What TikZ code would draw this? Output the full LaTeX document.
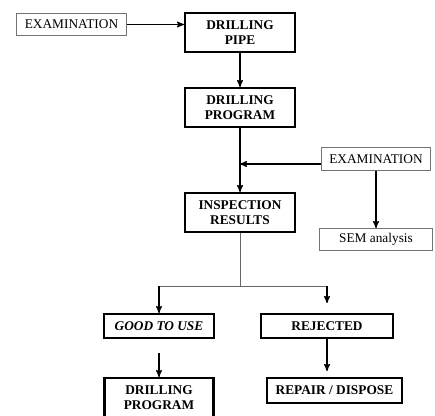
\documentclass[tikz,border=0pt]{standalone}
\usepackage{fontspec}
\setmainfont{Liberation Serif}
\usetikzlibrary{arrows,positioning,shapes}
\tikzset{
    %Define standard arrow tip
    >=stealth',
    %Define style for boxes
    box/.style={
           rectangle,
           draw=black, line width=1.6pt,
           font=\fontsize{10}{11.5}\selectfont\bfseries,
           align=center,
           inner sep=1pt,
           minimum width=82.4pt,
           minimum height=29.15pt},
    thinbox/.style={
           rectangle,
           draw=black!55, line width=0.6pt,
           font=\fontsize{10}{11}\selectfont,
           inner sep=1pt,
           minimum height=16.65pt},
    % Define arrow style
    arr/.style={
           ->,
           line width=0.9pt},
    branch/.style={
           draw=black!60,
           line width=0.6pt}
}
\begin{document}
\begin{tikzpicture}
  \useasboundingbox (-138pt,9pt) rectangle (188.25pt,-302.25pt);

  \node[box, anchor=north west] (pipe) at (0,0) {DRILLING\\PIPE};
  \node[box, below=25.5pt of pipe] (prog) {DRILLING\\PROGRAM};
  \node[box, below=48pt of prog] (insp) {INSPECTION\\RESULTS};
  \node[thinbox, minimum width=82.65pt, anchor=north east] (exam-top)
    at ([xshift=-42.75pt,yshift=-0.75pt]pipe.north west) {EXAMINATION};
  \node[thinbox, minimum width=81.9pt, minimum height=17.4pt, anchor=south west] (exam-right)
    at ([xshift=18.75pt,yshift=15.75pt]insp.north east) {EXAMINATION};
  \node[thinbox, minimum width=84.9pt, below=42.75pt of exam-right] (sem) {SEM analysis};

  \node[box, minimum height=17.9pt, font=\fontsize{10}{11.5}\selectfont\bfseries\itshape,
    below=60pt of insp, xshift=-60.75pt] (good) {GOOD TO USE};
  \node[box, minimum width=98.9pt, minimum height=17.9pt,
    below=60pt of insp, xshift=65.25pt] (rej) {REJECTED};
  \node[box, minimum width=81.65pt, below=28.5pt of good] (prog2) {DRILLING\\PROGRAM};
  \node[box, minimum width=101.15pt, minimum height=18.65pt,
    below=28.5pt of rej, xshift=5.6pt] (repair) {REPAIR / DISPOSE};

  \coordinate[below=39.75pt of insp] (split);

  % main line
  \draw[arr] (exam-top.east) -- (exam-top.east -| pipe.west);
  \draw[arr] (pipe) -- (prog);
  \draw[arr] (prog) -- (insp);
  \draw[arr] ([yshift=-3.75pt]exam-right.west) -- ([yshift=-3.75pt]exam-right.west -| prog.south);
  \draw[arr] (exam-right) -- (sem);

  % split of the results
  \draw[branch] (insp.south) -- (split);
  \draw[branch] (split -| good.north) -- (split -| rej.north);
  \draw[arr] (split -| good.north) -- (good.north);
  \draw[arr, shorten >=7.5pt] (split -| rej.north) -- (rej.north);
  \draw[arr, shorten <=10.5pt] (good) -- (prog2);
  \draw[arr, shorten >=4.5pt] (rej.south) -- (rej.south |- repair.north);
\end{tikzpicture}
\end{document}
